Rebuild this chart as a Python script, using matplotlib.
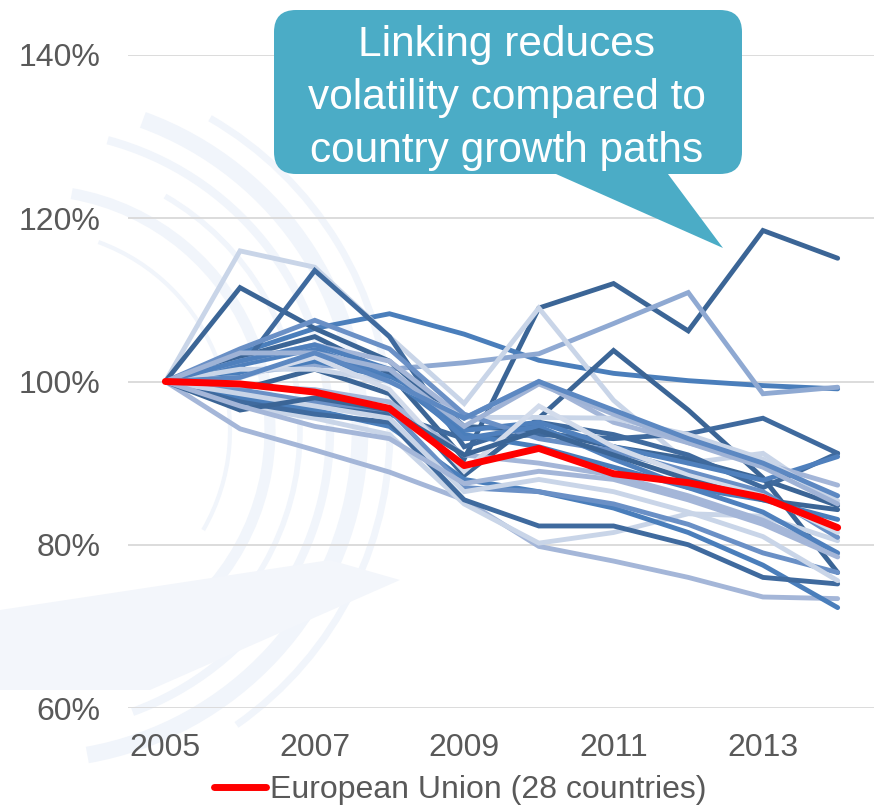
import matplotlib.pyplot as plt
import numpy as np
from matplotlib.patches import FancyBboxPatch, Polygon, Arc

plt.rcParams['font.family'] = ['Liberation Sans', 'DejaVu Sans']

# data: index (2005 = 100%) per country and the EU-28 total
years = [2005, 2006, 2007, 2008, 2009, 2010, 2011, 2012, 2013, 2014]

eu28 = [100, 99.7, 98.7, 96.7, 89.7, 91.8, 88.7, 87.6, 85.8, 82.1]

countries = [
    [100, 103.0, 105.5, 101.0, 90.5, 109.0, 112.0, 106.2, 118.5, 115.1],
    [100, 103.5, 106.5, 108.3, 105.8, 102.6, 101.0, 100.1, 99.5, 99.1],
    [100, 101.0, 102.0, 101.5, 102.3, 103.4, 107.1, 110.9, 98.5, 99.3],
    [100, 116.0, 114.0, 105.5, 97.3, 109.0, 97.7, 90.0, 91.2, 85.0],
    [100, 111.5, 106.5, 102.5, 94.5, 94.0, 92.0, 90.5, 88.0, 84.8],
    [100, 101.5, 113.6, 105.5, 92.0, 95.0, 93.5, 91.0, 87.0, 91.2],
    [100, 99.0, 101.5, 98.5, 88.5, 95.5, 103.8, 96.5, 88.2, 76.6],
    [100, 98.0, 97.0, 96.0, 93.0, 93.5, 93.0, 93.6, 95.5, 91.2],
    [100, 102.0, 104.0, 100.5, 94.0, 95.0, 92.0, 90.0, 87.9, 90.8],
    [100, 94.2, 91.6, 88.9, 85.5, 79.8, 78.0, 76.0, 73.6, 73.4],
    [100, 97.0, 95.5, 93.5, 85.0, 80.2, 81.5, 83.8, 83.5, 80.5],
    [100, 98.0, 96.5, 94.5, 88.0, 86.5, 84.5, 81.5, 77.5, 72.3],
    [100, 97.5, 96.0, 95.0, 85.5, 82.3, 82.3, 80.0, 76.0, 75.2],
    [100, 99.0, 97.5, 96.5, 87.0, 86.5, 85.0, 82.5, 79.0, 76.6],
    [100, 98.5, 97.0, 95.5, 86.5, 88.0, 86.5, 84.0, 81.0, 75.6],
    [100, 99.5, 99.0, 97.5, 91.0, 90.0, 88.5, 86.0, 83.0, 78.9],
    [100, 101.0, 102.5, 100.5, 93.5, 92.0, 89.5, 87.0, 85.5, 83.1],
    [100, 102.5, 104.5, 102.5, 95.5, 100.0, 95.0, 92.5, 90.0, 87.3],
    [100, 101.5, 101.5, 100.0, 95.6, 95.6, 95.5, 93.5, 90.5, 85.4],
    [100, 104.0, 107.5, 104.0, 96.0, 93.0, 91.5, 89.0, 86.5, 80.9],
    [100, 102.5, 104.5, 101.5, 93.0, 94.5, 90.5, 87.0, 84.0, 79.0],
    [100, 100.5, 103.0, 99.0, 89.0, 97.0, 92.0, 88.5, 86.0, 81.5],
    [100, 103.5, 103.5, 101.5, 94.5, 99.7, 96.0, 92.5, 89.5, 85.0],
    [100, 96.5, 98.0, 96.5, 91.0, 94.0, 91.0, 88.0, 85.5, 84.3],
    [100, 97.0, 94.5, 93.0, 87.5, 89.0, 88.0, 85.5, 82.5, 78.5],
    [100, 100.5, 103.5, 100.0, 95.5, 100.0, 96.5, 93.0, 90.0, 86.0],
]

country_colors = [
    '#3b6596', '#4a7ebb', '#8fa9d2', '#c9d5e8', '#3b6596', '#3f6a9e',
    '#3b6596', '#3f6a9e', '#4f80bd', '#a4b6d8', '#c9d5e8', '#4a7ebb',
    '#3f6a9e', '#6a90c6', '#c9d5e8', '#a4b6d8', '#4a7ebb', '#a4b6d8',
    '#c9d5e8', '#6a90c6', '#4f80bd', '#d2dbeb', '#9fb3d6', '#3b6596',
    '#a4b6d8', '#5c88c2',
]

fig = plt.figure(figsize=(8.74, 8.08), dpi=100)

# faint swirl in the background
bg = fig.add_axes([0, 0, 1, 1], zorder=0)
bg.set_xlim(0, 874)
bg.set_ylim(808, 0)
bg.axis('off')
for r, w, t1, t2 in [(330, 12, 290, 80), (300, 6, 285, 70), (270, 4, 300, 60),
                     (240, 8, 280, 40), (360, 5, 300, 55), (200, 3, 290, 30)]:
    bg.add_patch(Arc((30, 430), 2 * r, 2 * r, theta1=t1, theta2=t2,
                     color='#f1f5fb', lw=w))
bg.add_patch(Polygon([[0, 610], [330, 560], [400, 580], [150, 690], [0, 690]],
                     closed=True, color='#f3f6fb', lw=0))

ax = fig.add_axes([128 / 874, 100 / 808, 747 / 874, 653 / 808], zorder=1)
ax.patch.set_alpha(0)

for vals, c in zip(countries, country_colors):
    ax.plot(years, vals, color=c, lw=3.5, solid_capstyle='round',
            solid_joinstyle='miter')
eu_line, = ax.plot(years, eu28, color='#ff0000', lw=5.0,
                   solid_capstyle='round', label='European Union (28 countries)')

ax.set_xlim(2004.5, 2014.5)
ax.set_ylim(60, 140)
ax.set_yticks([60, 80, 100, 120, 140])
ax.set_yticklabels(['60%', '80%', '100%', '120%', '140%'])
ax.set_xticks([2005, 2007, 2009, 2011, 2013])
ax.tick_params(length=0, labelsize=23, colors='#595959')
ax.tick_params(axis='y', pad=20)
ax.tick_params(axis='x', pad=18)
ax.grid(axis='y', color='#d9d9d9', lw=1.3)
ax.set_axisbelow(True)
for s in ax.spines.values():
    s.set_visible(False)

fig.legend(handles=[eu_line], loc='center', bbox_to_anchor=(0.527, 0.022),
           frameon=False, fontsize=23, handlelength=1.6, handletextpad=0.15,
           labelcolor='#595959')

# callout box
ov = fig.add_axes([0, 0, 1, 1], zorder=3)
ov.set_xlim(0, 874)
ov.set_ylim(808, 0)
ov.axis('off')
box_c = '#4bacc6'
ov.add_patch(FancyBboxPatch((288, 24), 440, 136,
                            boxstyle='round,pad=14,rounding_size=22',
                            fc=box_c, ec='none'))
ov.add_patch(Polygon([[547, 170], [665, 170], [723, 248]], closed=True,
                     fc=box_c, ec='none'))
ov.text(507, 98, 'Linking reduces\nvolatility compared to\ncountry growth paths',
        ha='center', va='center', color='white', fontsize=30.5, linespacing=1.42)

fig.savefig('out.png', dpi=100)
